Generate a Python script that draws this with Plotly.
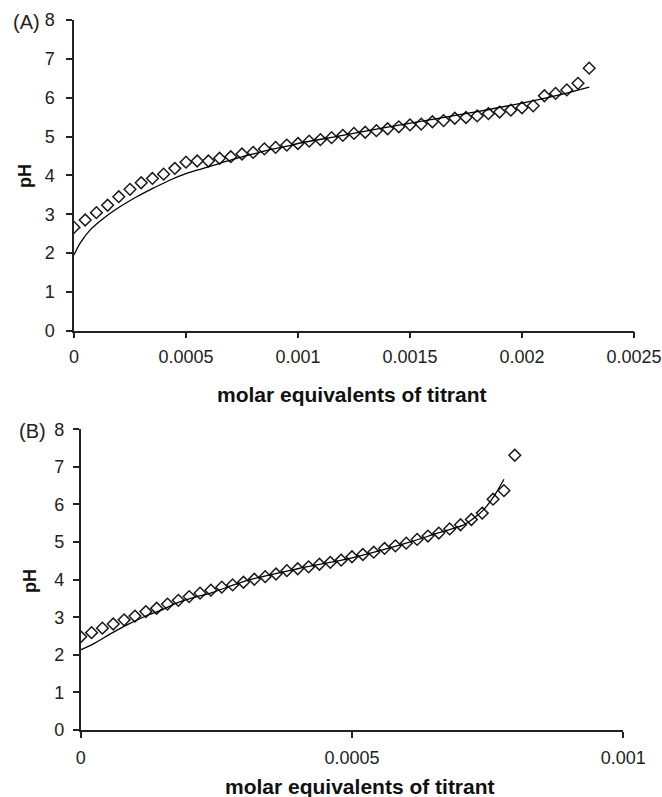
import plotly.graph_objects as go

# ---------------- Panel A data ----------------
a_x_step = 0.00005
a_ph = [2.66, 2.85, 3.04, 3.23, 3.45, 3.64, 3.81, 3.92, 4.03, 4.18,
        4.34, 4.37, 4.37, 4.44, 4.48, 4.55, 4.59, 4.68, 4.72, 4.78,
        4.82, 4.88, 4.92, 4.97, 5.03, 5.08, 5.11, 5.15, 5.20, 5.25,
        5.30, 5.32, 5.38, 5.41, 5.47, 5.49, 5.53, 5.59, 5.63, 5.68,
        5.74, 5.79, 6.05, 6.11, 6.20, 6.37, 6.76]
a_x = [round(i * a_x_step, 6) for i in range(len(a_ph))]

a_fit_x = [0.0, 0.0000268, 0.0000714, 0.000131, 0.000205, 0.00028, 0.000354,
           0.000429, 0.000503, 0.000577, 0.000652, 0.000726, 0.0008, 0.000867,
           0.00095, 0.001, 0.0012, 0.0014, 0.0016, 0.0018, 0.002, 0.0022, 0.0023]
a_fit_ph = [1.95, 2.25, 2.59, 2.89, 3.19, 3.45, 3.67, 3.88, 4.05, 4.18, 4.31,
            4.44, 4.55, 4.65, 4.75, 4.82, 5.03, 5.24, 5.44, 5.64, 5.86, 6.12, 6.27]

a_tickvals = [0, 0.0005, 0.001, 0.0015, 0.002, 0.0025]
a_ticktext = ["0", "0.0005", "0.001", "0.0015", "0.002", "0.0025"]

# ---------------- Panel B data ----------------
b_x_step = 0.00002
b_ph = [2.48, 2.59, 2.71, 2.82, 2.93, 3.03, 3.15, 3.24, 3.35, 3.45,
        3.55, 3.64, 3.72, 3.80, 3.86, 3.93, 4.01, 4.08, 4.15, 4.24,
        4.29, 4.34, 4.41, 4.46, 4.52, 4.61, 4.67, 4.73, 4.83, 4.90,
        4.97, 5.07, 5.16, 5.24, 5.35, 5.46, 5.60, 5.77, 6.14, 6.37, 7.31]
b_x = [round(i * b_x_step, 6) for i in range(len(b_ph))]

b_fit_x = [0.0, 0.0000258, 0.0000564, 0.0000872, 0.000118, 0.000149, 0.000179,
           0.00021, 0.000241, 0.0003, 0.0004, 0.0005, 0.0006, 0.000656, 0.000681,
           0.000705, 0.000724, 0.000742, 0.000757, 0.000767, 0.00078]
b_fit_ph = [2.13, 2.31, 2.57, 2.81, 3.02, 3.19, 3.39, 3.53, 3.65, 3.95, 4.29,
            4.58, 4.97, 5.23, 5.34, 5.45, 5.63, 5.85, 6.12, 6.34, 6.67]

b_tickvals = [0, 0.0005, 0.001]
b_ticktext = ["0", "0.0005", "0.001"]

y_tickvals = [0, 1, 2, 3, 4, 5, 6, 7, 8]

W, H = 662, 797
FONT = "Liberation Sans, Arial, sans-serif"
INK = "#1a1a1a"


def px_x(p):
    return p / W


def px_y(p):
    return 1 - p / H


fig = go.Figure()

marker_style = dict(symbol="diamond-open", size=9, color=INK, line=dict(width=1.5, color=INK))

fig.add_trace(go.Scatter(x=a_x, y=a_ph, mode="markers", marker=marker_style,
                         xaxis="x", yaxis="y", showlegend=False))
fig.add_trace(go.Scatter(x=a_fit_x, y=a_fit_ph, mode="lines", line=dict(color="black", width=1.3, shape="spline"),
                         xaxis="x", yaxis="y", showlegend=False))
fig.add_trace(go.Scatter(x=b_x, y=b_ph, mode="markers", marker=marker_style,
                         xaxis="x2", yaxis="y2", showlegend=False))
fig.add_trace(go.Scatter(x=b_fit_x, y=b_fit_ph, mode="lines", line=dict(color="black", width=1.3, shape="spline"),
                         xaxis="x2", yaxis="y2", showlegend=False))

axis_common = dict(showline=True, linecolor="#222", linewidth=1.5, ticks="outside",
                   ticklen=6, tickwidth=1.5, tickcolor="#222", showgrid=False, zeroline=False,
                   tickfont=dict(family=FONT, size=18, color="#222"), automargin=False)

fig.update_layout(
    width=W, height=H,
    margin=dict(l=0, r=0, t=0, b=0),
    paper_bgcolor="white", plot_bgcolor="white",
    xaxis=dict(domain=[px_x(74), px_x(634)], range=[0, 0.0025], anchor="y",
               tickmode="array", tickvals=a_tickvals, ticktext=a_ticktext,
               ticklabelstandoff=3, **axis_common),
    yaxis=dict(domain=[px_y(330.7), px_y(20)], range=[0, 8], anchor="x",
               tickmode="array", tickvals=y_tickvals, ticklabelstandoff=8, **axis_common),
    xaxis2=dict(domain=[px_x(80.7), px_x(623.3)], range=[0, 0.001], anchor="y2",
                tickmode="array", tickvals=b_tickvals, ticktext=b_ticktext,
                ticklabelstandoff=5, **axis_common),
    yaxis2=dict(domain=[px_y(730), px_y(429.3)], range=[0, 8], anchor="x2",
                tickmode="array", tickvals=y_tickvals, ticklabelstandoff=5, **axis_common),
)

ann = []
title_font = dict(family=FONT, size=21, color="#111")
common = dict(xref="paper", yref="paper", showarrow=False, xanchor="center", yanchor="middle")
# x-axis titles (bold)
ann.append(dict(text="<b>molar equivalents of titrant</b>", x=px_x(352), y=px_y(394),
                font=title_font, **common))
ann.append(dict(text="<b>molar equivalents of titrant</b>", x=px_x(360), y=px_y(786),
                font=title_font, **common))
# y-axis titles
ann.append(dict(text="<b>pH</b>", x=px_x(25), y=px_y(176), textangle=-90,
                font=dict(family=FONT, size=18, color="#111"), **common))
ann.append(dict(text="<b>pH</b>", x=px_x(30), y=px_y(581), textangle=-90,
                font=dict(family=FONT, size=18, color="#111"), **common))
# panel labels
ann.append(dict(text="(A)", x=px_x(26), y=px_y(22),
                font=dict(family=FONT, size=20, color="#222"), **common))
ann.append(dict(text="(B)", x=px_x(32), y=px_y(431),
                font=dict(family=FONT, size=20, color="#222"), **common))
fig.update_layout(annotations=ann)

fig.write_html("out.html")
